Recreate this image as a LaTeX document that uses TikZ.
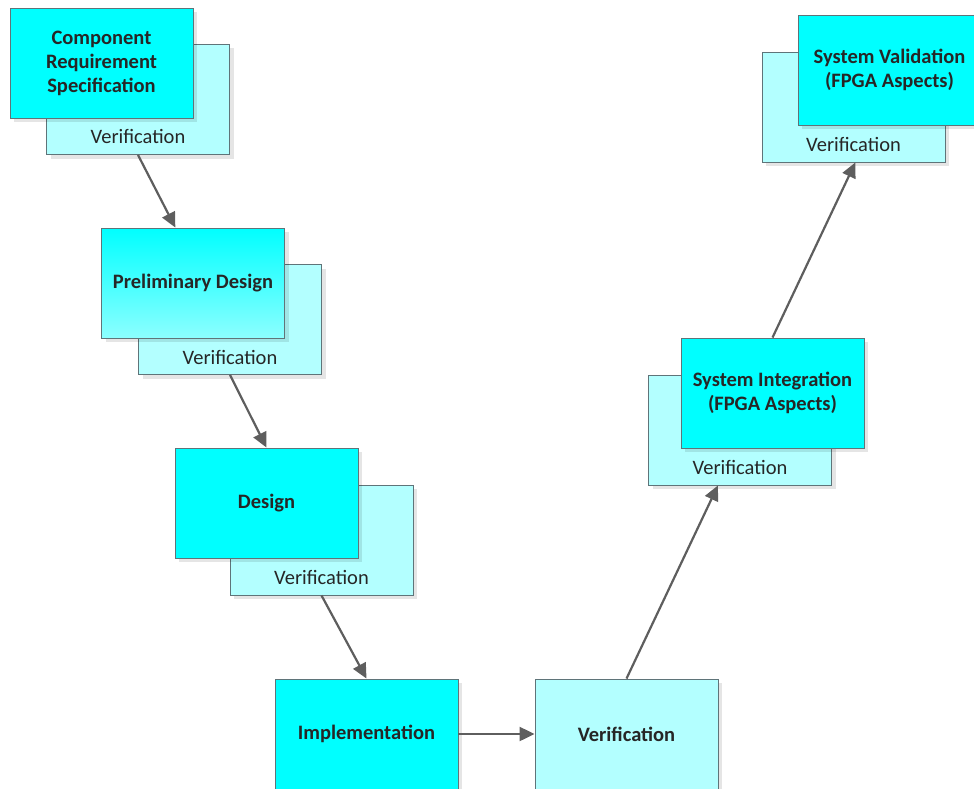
\documentclass[tikz,border=0pt]{standalone}
\usepackage{fontspec}
\setmainfont{Carlito}
\usetikzlibrary{arrows.meta,shadows,calc}
\definecolor{boxcyan}{HTML}{00FFFF}
\definecolor{boxlight}{HTML}{B3FFFF}
\definecolor{boxedge}{HTML}{5F7479}
\definecolor{arrowgray}{HTML}{5E5E5E}
\definecolor{txt}{HTML}{262626}
\tikzset{
  base/.style={draw=boxedge, line width=0.9pt, inner sep=0pt, minimum width=183pt, minimum height=110pt,
    text=txt, align=center,
    drop shadow={shadow xshift=4pt, shadow yshift=-4pt, fill=black, opacity=0.10}},
  bigfont/.style={font=\bfseries\fontsize{20.5}{24}\selectfont},
  frontbox/.style={base, fill=boxcyan, bigfont},
  backbox/.style={base, fill=boxlight},
  gradbox/.style={base, top color=boxcyan, bottom color=boxcyan!45!white, bigfont},
  vlabel/.style={text=txt, inner sep=0pt, font=\fontsize{20.5}{24}\selectfont},
  conn/.style={draw=arrowgray, line width=2.2pt, -{Triangle[length=15pt,width=14pt]}}
}
\begin{document}
\begin{tikzpicture}[x=1pt,y=-1pt]
\useasboundingbox (0,0) rectangle (974,789);
% Component Requirement Specification
\node[backbox] (crsB) at (138,99.5) {};
\node[frontbox] (crs) at (101.5,63) {Component\\Requirement\\Specification};
\node[vlabel] (crsV) at (138,136) {Verification};
% Preliminary Design
\node[backbox] (preB) at (230,319.5) {};
\node[gradbox] (pre) at (193,283) {Preliminary Design};
\node[vlabel] (preV) at (230,357) {Verification};
% Design
\node[backbox] (desB) at (321.5,540) {};
\node[frontbox] (des) at (266.5,503) {Design};
\node[vlabel] (desV) at (321.5,577) {Verification};
% Implementation and Verification
\node[frontbox] (imp) at (366.5,734) {Implementation};
\node[backbox, bigfont] (ver) at (626.5,734) {Verification};
% System Integration
\node[backbox] (siB) at (740,430) {};
\node[frontbox] (si) at (772.5,393) {System Integration\\(FPGA Aspects)};
\node[vlabel] (siV) at (740,467) {Verification};
% System Validation
\node[backbox] (svB) at (853.5,107) {};
\node[frontbox] (sv) at (889.5,70) {System Validation\\(FPGA Aspects)};
\node[vlabel] (svV) at (853.5,144) {Verification};
% connectors
\draw[conn] (crsB.south) -- ($(pre.north west)!0.404!(pre.north east)$);
\draw[conn] (preB.south) -- (des.north);
\draw[conn] (desB.south) -- (imp.north);
\draw[conn] (imp.east) -- (ver.west);
\draw[conn] (ver.north) -- ($(siB.south west)!0.38!(siB.south east)$);
\draw[conn] (si.north) -- ($(svB.south west)!0.51!(svB.south east)$);
\end{tikzpicture}
\end{document}
